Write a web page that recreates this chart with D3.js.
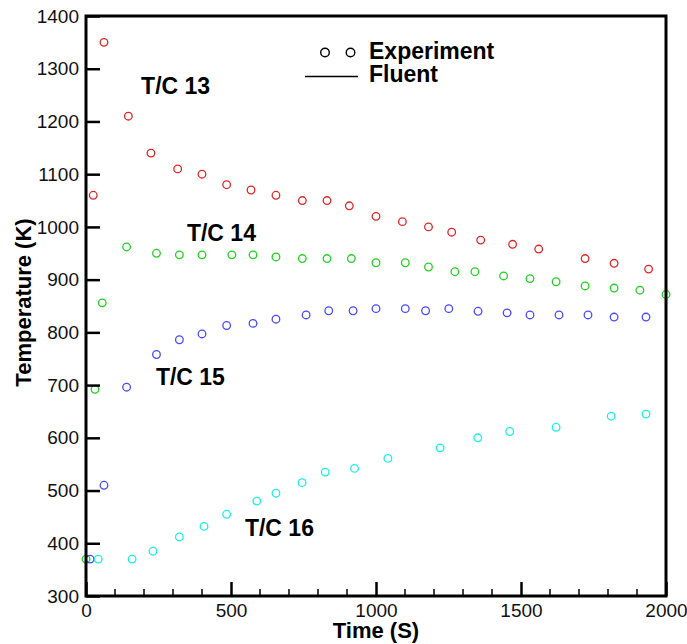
<!DOCTYPE html>
<html><head><meta charset="utf-8">
<script src="https://cdn.jsdelivr.net/npm/d3@7"></script>
<style>body{margin:0;background:#fff}svg{display:block}text{font-family:"Liberation Sans",Arial,sans-serif}</style>
</head><body>
<svg id="c" width="687" height="644"></svg>
<script>
const xTicks = [0, 500, 1000, 1500, 2000];
const yTicks = [300, 400, 500, 600, 700, 800, 900, 1000, 1100, 1200, 1300, 1400];

const tc13Time = [25, 62, 146, 224, 316, 400, 485, 569, 655, 746, 831, 908, 1000, 1091, 1181, 1261, 1361, 1471, 1561, 1721, 1821, 1940];
const tc13Temp = [1060, 1350, 1210, 1140, 1110, 1100, 1080, 1070, 1060, 1050, 1050, 1040, 1020, 1010, 1000, 990, 975, 967, 958, 940, 931, 920];

const tc14Time = [0, 31, 56, 140, 243, 322, 400, 503, 576, 655, 746, 831, 915, 1000, 1101, 1181, 1272, 1341, 1440, 1531, 1621, 1721, 1821, 1910, 2000];
const tc14Temp = [370, 692, 856, 962, 950, 947, 947, 947, 947, 943, 940, 940, 940, 932, 932, 924, 915, 915, 907, 902, 896, 888, 884, 880, 872];

const tc15Time = [14, 62, 140, 243, 322, 400, 485, 576, 655, 759, 837, 921, 1000, 1101, 1171, 1251, 1352, 1452, 1531, 1631, 1731, 1821, 1931];
const tc15Temp = [370, 510, 696, 758, 786, 797, 813, 817, 825, 833, 841, 841, 845, 845, 841, 845, 840, 837, 833, 833, 833, 829, 829];

const tc16Time = [42, 159, 231, 322, 407, 485, 589, 655, 745, 825, 926, 1041, 1221, 1351, 1461, 1621, 1811, 1931];
const tc16Temp = [370, 370, 385, 412, 432, 455, 480, 495, 515, 535, 542, 561, 581, 600, 612, 620, 641, 645];

const seriesNames = ["T/C 13", "T/C 14", "T/C 15", "T/C 16"];
const seriesColors = ["#e02424", "#22d022", "#4848ff", "#18eeee"];
const labelPos = [[190, 1252], [348, 973], [241, 700], [548, 414]]; // time, temp anchors
const legendNames = ["Experiment", "Fluent"];

const series = [
  {name: seriesNames[0], t: tc13Time, v: tc13Temp, c: seriesColors[0]},
  {name: seriesNames[1], t: tc14Time, v: tc14Temp, c: seriesColors[1]},
  {name: seriesNames[2], t: tc15Time, v: tc15Temp, c: seriesColors[2]},
  {name: seriesNames[3], t: tc16Time, v: tc16Temp, c: seriesColors[3]}
];

const L = 86, R = 666, T = 16, B = 596;
const x = d3.scaleLinear().domain([0, 2000]).range([L, R]);
const y = d3.scaleLinear().domain([300, 1400]).range([B, T]);
const svg = d3.select("#c");

// points
series.forEach(s => {
  svg.append("g").selectAll("circle").data(s.t.map((t, i) => [t, s.v[i]])).join("circle")
    .attr("cx", d => x(d[0])).attr("cy", d => y(d[1])).attr("r", 3.8)
    .attr("fill", "none").attr("stroke", s.c).attr("stroke-width", 1.3);
});

// minor x ticks
svg.append("g").selectAll("line").data(d3.range(100, 2000, 100).filter(v => v % 500 !== 0)).join("line")
  .attr("x1", d => x(d)).attr("x2", d => x(d)).attr("y1", B).attr("y2", B - 7)
  .attr("stroke", "#000").attr("stroke-width", 1.5);

// x axis
const xa = svg.append("g").attr("transform", `translate(0,${B})`)
  .call(d3.axisBottom(x).tickValues(xTicks).tickSize(-14).tickPadding(8).tickFormat(d3.format("d")));
xa.select(".domain").remove();
xa.selectAll(".tick line").attr("stroke-width", 2.5);
xa.selectAll(".tick text").attr("font-size", 19).attr("fill", "#111")
  .attr("font-family", '"Liberation Sans",Arial,sans-serif');

// y axis
const ya = svg.append("g").attr("transform", `translate(${L},0)`)
  .call(d3.axisLeft(y).tickValues(yTicks).tickSize(-14).tickPadding(7).tickFormat(d3.format("d")));
ya.select(".domain").remove();
ya.selectAll(".tick line").attr("stroke-width", 2.5);
ya.selectAll(".tick text").attr("font-size", 19).attr("fill", "#111")
  .attr("font-family", '"Liberation Sans",Arial,sans-serif');

// frame
svg.append("rect").attr("x", L).attr("y", T).attr("width", R - L).attr("height", B - T)
  .attr("fill", "none").attr("stroke", "#000").attr("stroke-width", 3);

// series labels
series.forEach((s, i) => {
  svg.append("text").attr("x", x(labelPos[i][0])).attr("y", y(labelPos[i][1]))
    .attr("font-size", 23).attr("font-weight", "bold").attr("fill", "#000").text(s.name);
});

// legend
[325, 350.5].forEach(cx => svg.append("circle").attr("cx", cx).attr("cy", 52.5).attr("r", 4.3)
  .attr("fill", "none").attr("stroke", "#000").attr("stroke-width", 1.4));
svg.append("line").attr("x1", 305).attr("x2", 358).attr("y1", 76.5).attr("y2", 76.5)
  .attr("stroke", "#000").attr("stroke-width", 1.3);
svg.append("text").attr("x", 369).attr("y", 59).attr("font-size", 23).attr("font-weight", "bold").text(legendNames[0]);
svg.append("text").attr("x", 369).attr("y", 82).attr("font-size", 23).attr("font-weight", "bold").text(legendNames[1]);

// axis titles
svg.append("text").attr("x", (L + R) / 2).attr("y", 638).attr("text-anchor", "middle")
  .attr("font-size", 22).attr("font-weight", "bold").text("Time (S)");
svg.append("text").attr("transform", `translate(31,${(218 + 387) / 2}) rotate(-90)`).attr("text-anchor", "middle")
  .attr("font-size", 22).attr("font-weight", "bold").text("Temperature (K)");
</script>
</body></html>
